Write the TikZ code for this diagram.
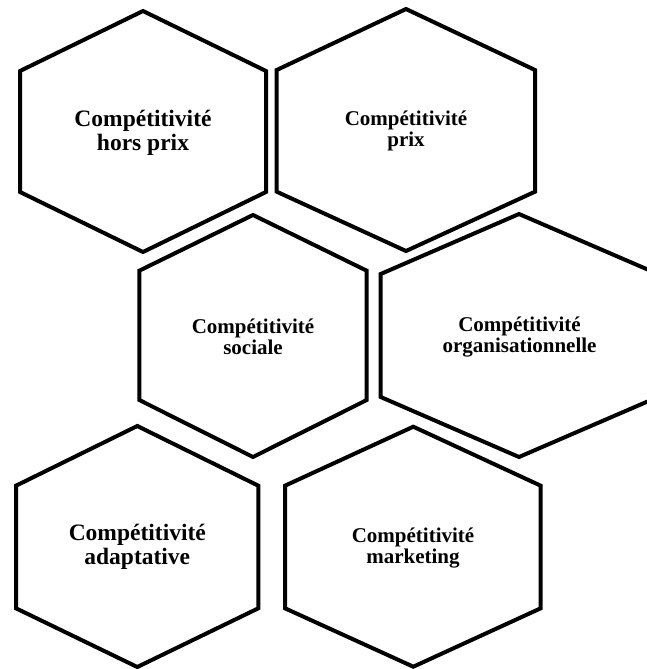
\documentclass[tikz,border=0pt]{standalone}
\usepackage{fontspec}
\setmainfont{Liberation Serif}
\begin{document}
\begin{tikzpicture}[x=1pt,y=-1pt,
  hexline/.style={draw=black,line width=4pt,line join=miter},
  biglbl/.style={align=center,inner sep=0pt,font=\bfseries\fontsize{23.5}{24.5}\selectfont},
  smalllbl/.style={align=center,inner sep=0pt,font=\bfseries\fontsize{21}{21.5}\selectfont}]
\useasboundingbox (0,0) rectangle (647,669);
\clip (0,0) rectangle (647,669);
% hexagons
\draw[hexline] (143,11) -- (266,71) -- (266,192) -- (143,252) -- (20,192) -- (20,71) -- cycle;
\draw[hexline] (406,9) -- (535,70) -- (535,191.7) -- (406,251) -- (276.7,191.7) -- (276.7,70) -- cycle;
\draw[hexline] (253,215) -- (366.7,270.7) -- (366.7,400) -- (253,457) -- (139.3,400) -- (139.3,270.7) -- cycle;
\draw[hexline] (519,214) -- (658,274) -- (658,397) -- (519,457) -- (380.7,397) -- (380.7,274) -- cycle;
\draw[hexline] (137.3,426) -- (258.3,485.7) -- (258.3,608.3) -- (137.3,667) -- (16,608.3) -- (16,485.7) -- cycle;
\draw[hexline] (413.3,426.7) -- (540.7,485.7) -- (540.7,608.3) -- (413.3,666.7) -- (285,608.3) -- (285,485.7) -- cycle;
% labels
\node[biglbl] (horsprix) at (143,133) {Compétitivité\\hors prix};
\node[smalllbl] (prix) at (406,131) {Compétitivité\\prix};
\node[smalllbl] (sociale) at (253,337) {Compétitivité\\sociale};
\node[smalllbl] (orga) at (519.5,337) {Compétitivité\\organisationnelle};
\node[biglbl] (adapt) at (137.3,547) {Compétitivité\\adaptative};
\node[smalllbl] (market) at (413,548) {Compétitivité\\marketing};
\end{tikzpicture}
\end{document}
